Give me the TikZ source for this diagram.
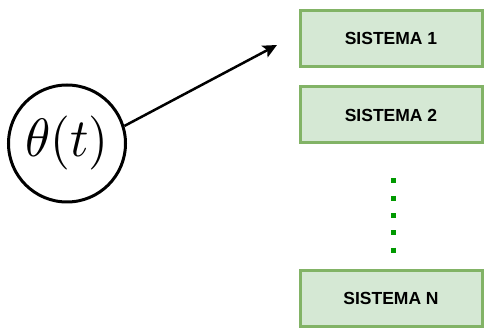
\documentclass[tikz,border=0pt]{standalone}
\usepackage{fontspec}
\setsansfont{Liberation Sans}
\usetikzlibrary{arrows.meta}
\definecolor{boxfill}{HTML}{D5E8D4}
\definecolor{boxline}{HTML}{82B366}
\definecolor{dotgreen}{HTML}{009900}
\begin{document}
\begin{tikzpicture}[x=1pt,y=-1pt,
  sysbox/.style={draw=boxline,fill=boxfill,line width=3pt,minimum width=182pt,minimum height=56pt,inner sep=0pt,
    font=\sffamily\bfseries\fontsize{17.5}{20}\selectfont},
  thetacirc/.style={draw,circle,line width=3pt,minimum size=117pt,inner sep=0pt}]
\useasboundingbox (0,0) rectangle (484,328);
\node[thetacirc] (c) at (67,143.5) {\scalebox{5.1}[5.4]{$\theta(t)$}};
\node[sysbox] (s1) at (391,38.5) {SISTEMA 1};
\node[sysbox] (s2) at (391,115) {SISTEMA 2};
\node[sysbox] (sn) at (391,298.5) {SISTEMA N};
\coordinate (tip) at (277,45);
\draw[line width=2.5pt,-{Stealth[length=14pt,width=13pt,inset=3pt]}] (c.17) -- (tip);
\coordinate (d1) at (393.5,178.5);
\coordinate (d2) at (393.5,253);
\draw[dotgreen,line width=5pt,dash pattern=on 5pt off 12.3pt] (d1) -- (d2);
\end{tikzpicture}
\end{document}
